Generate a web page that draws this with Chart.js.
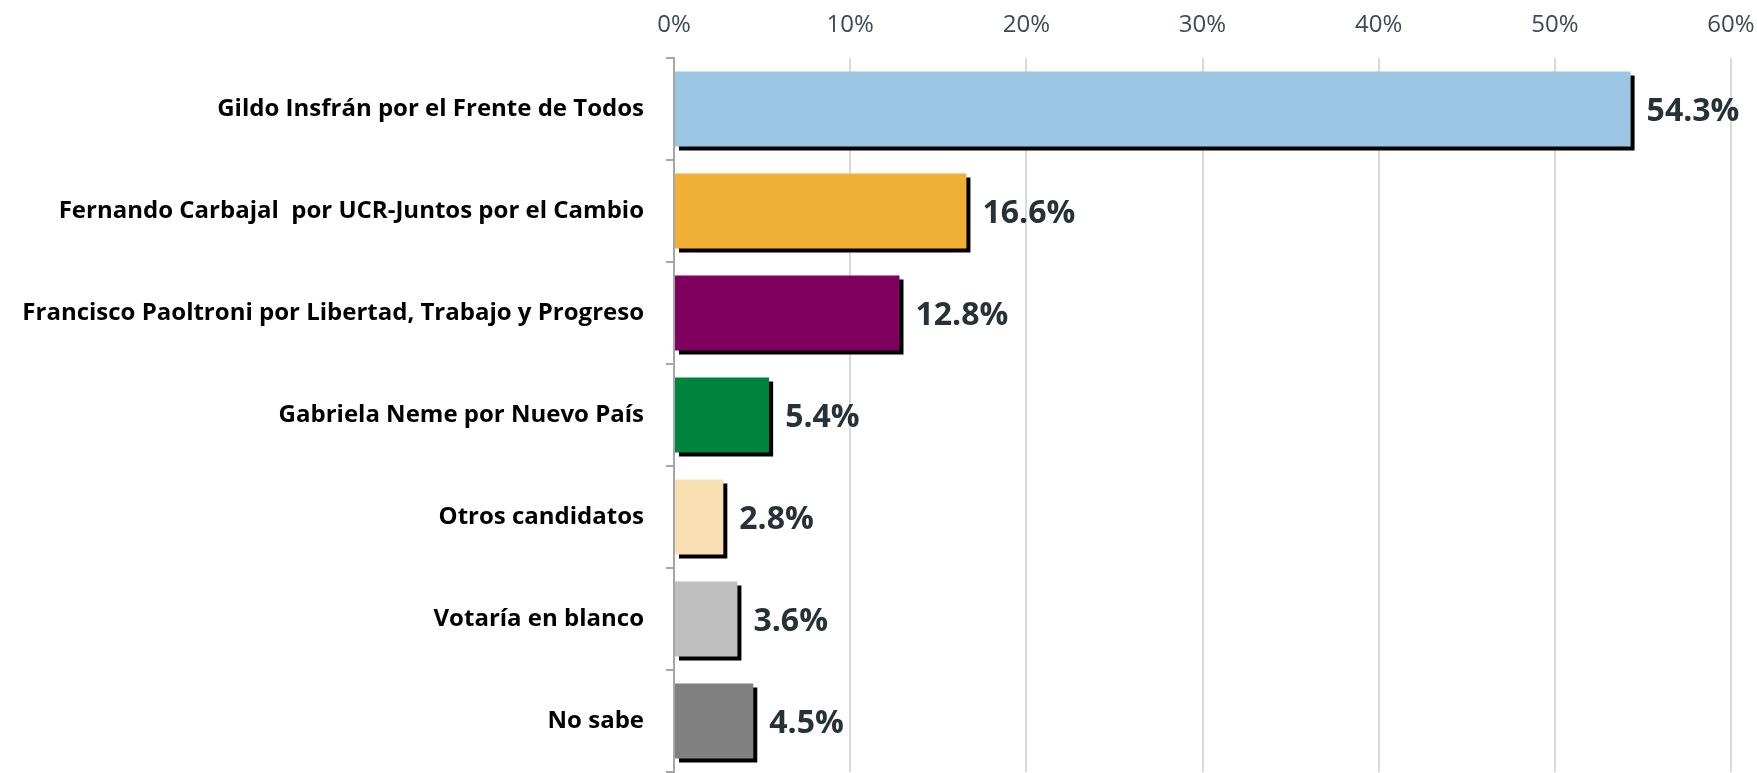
<!DOCTYPE html>
<html lang="es">
<head>
<meta charset="utf-8">
<title>Intención de voto</title>
<script src="https://cdn.jsdelivr.net/npm/chart.js@4/dist/chart.umd.min.js"></script>
<style>
    html, body { margin: 0; padding: 0; background: #fff; overflow: hidden; }
    #wrap { position: relative; width: 1757px; height: 773px; }
</style>
</head>
<body>
<div id="wrap"><canvas id="votoChart"></canvas></div>
<script>
// Datos del gráfico
const candidatos = [
    'Gildo Insfrán por el Frente de Todos',
    'Fernando Carbajal  por UCR-Juntos por el Cambio',
    'Francisco Paoltroni por Libertad, Trabajo y Progreso',
    'Gabriela Neme por Nuevo País',
    'Otros candidatos',
    'Votaría en blanco',
    'No sabe'
];
const porcentajes = [54.3, 16.6, 12.8, 5.4, 2.8, 3.6, 4.5];
const colores = ['#9bc7e5', '#f0b035', '#800060', '#00843d', '#f9e0b3', '#bfbfbf', '#808080'];
const ticksX = [0, 10, 20, 30, 40, 50, 60];

// Sombra negra desplazada detrás de cada barra
const sombraBarras = {
    id: 'sombraBarras',
    beforeDatasetDraw(chart) {
        const ctx = chart.ctx;
        ctx.save();
        ctx.shadowColor = '#000';
        ctx.shadowBlur = 0;
        ctx.shadowOffsetX = 4;
        ctx.shadowOffsetY = 4;
    },
    afterDatasetDraw(chart) {
        chart.ctx.restore();
    }
};

// Etiquetas de valor al final de cada barra
const etiquetasValor = {
    id: 'etiquetasValor',
    afterDatasetsDraw(chart) {
        const ctx = chart.ctx;
        const meta = chart.getDatasetMeta(0);
        ctx.save();
        ctx.font = 'bold 32px "Open Sans"';
        ctx.fillStyle = '#263238';
        ctx.textAlign = 'left';
        ctx.textBaseline = 'middle';
        meta.data.forEach((bar, i) => {
            ctx.fillText(porcentajes[i].toFixed(1) + '%', bar.x + 16, bar.y + 3);
        });
        ctx.restore();
    }
};

const ctx = document.getElementById('votoChart').getContext('2d');

new Chart(ctx, {
    type: 'bar',
    data: {
        labels: candidatos,
        datasets: [{
            data: porcentajes,
            backgroundColor: colores,
            borderWidth: 0,
            barPercentage: 0.735,
            categoryPercentage: 1
        }]
    },
    options: {
        indexAxis: 'y',
        responsive: true,
        maintainAspectRatio: false,
        animation: false,
        layout: { padding: { top: 0, right: 26, bottom: 1, left: 0 } },
        plugins: {
            legend: { display: false },
            tooltip: { enabled: false }
        },
        scales: {
            x: {
                position: 'top',
                min: 0,
                max: 60,
                afterBuildTicks: (scale) => {
                    scale.ticks = ticksX.map(v => ({ value: v }));
                },
                afterFit: (scale) => {
                    scale.height = 58;
                    scale.paddingLeft = 0;
                    scale.paddingRight = 0;
                },
                ticks: {
                    callback: (v) => v + '%',
                    color: '#3d4a52',
                    font: { family: '"Open Sans"', size: 24 },
                    padding: 18
                },
                grid: {
                    color: '#d9d9d9',
                    lineWidth: 2,
                    drawTicks: false
                },
                border: { display: false }
            },
            y: {
                afterFit: (scale) => {
                    scale.width = 674;
                    scale.paddingTop = 0;
                    scale.paddingBottom = 0;
                },
                ticks: {
                    color: '#000',
                    font: { family: '"Open Sans"', weight: 'bold', size: 24 },
                    padding: 22
                },
                grid: {
                    offset: true,
                    drawOnChartArea: false,
                    drawTicks: true,
                    tickLength: 8,
                    color: '#a6a6a6',
                    lineWidth: 2
                },
                border: { display: true, color: '#a6a6a6', width: 2 }
            }
        }
    },
    plugins: [sombraBarras, etiquetasValor]
});
</script>
</body>
</html>
